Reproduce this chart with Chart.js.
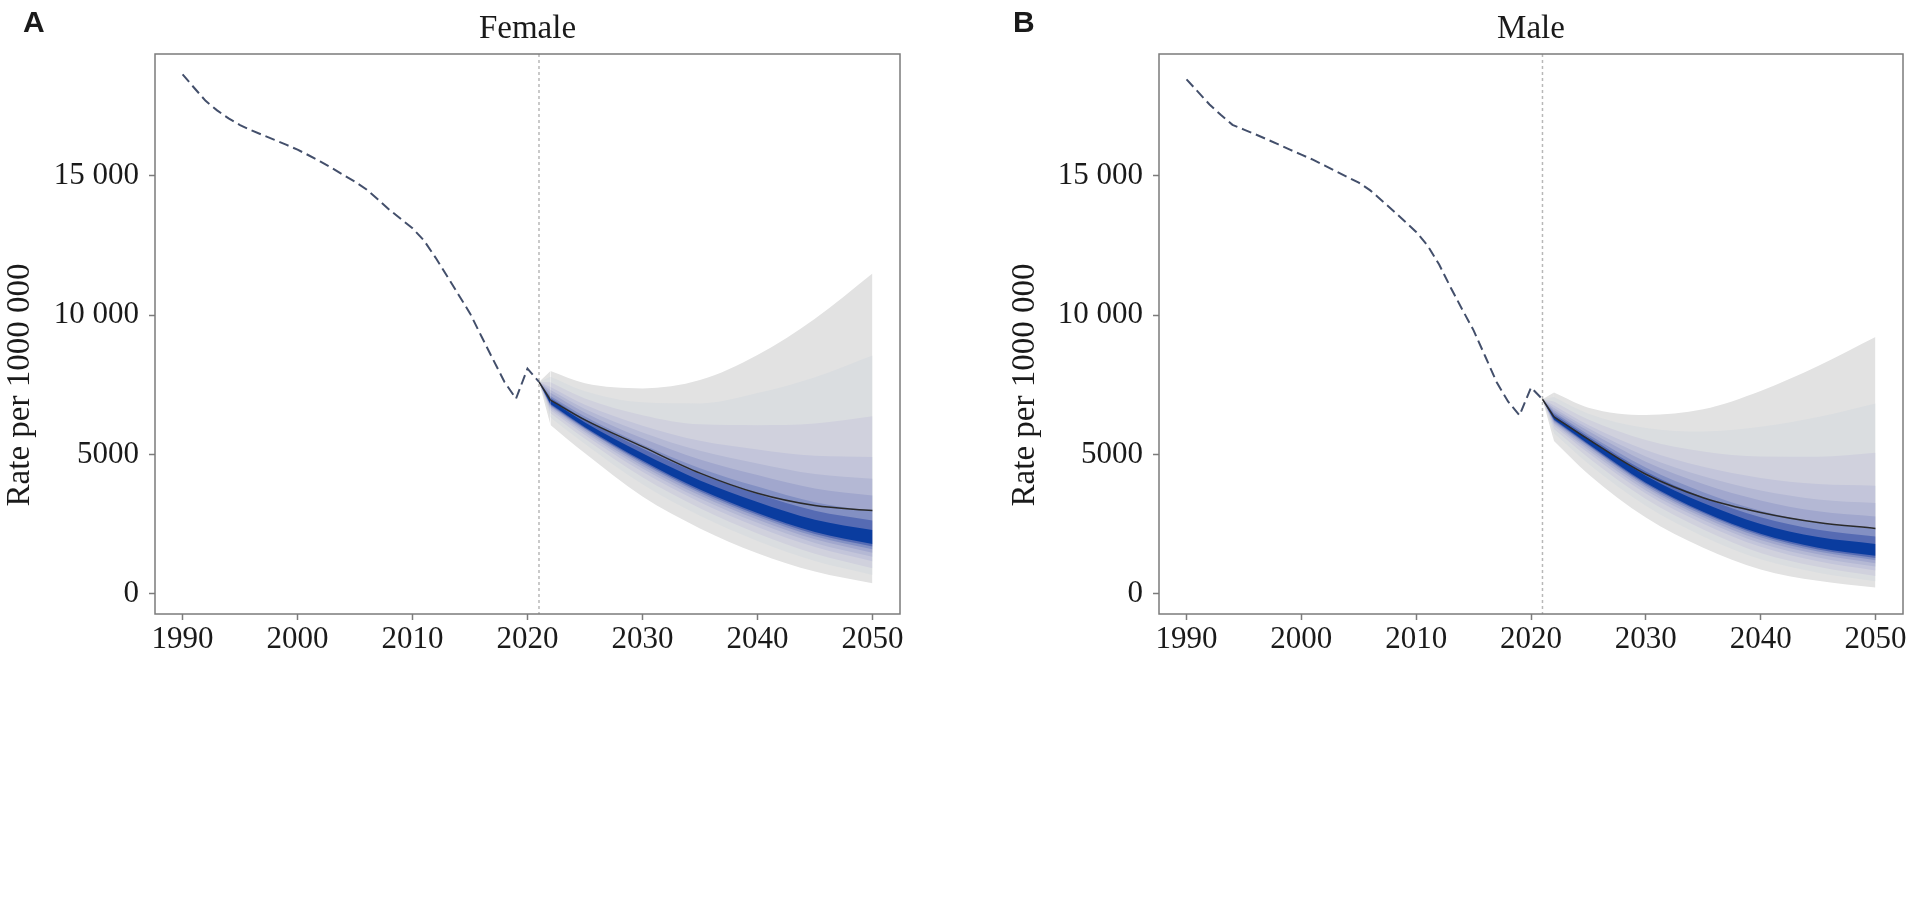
<!DOCTYPE html>
<html>
<head>
<meta charset="utf-8">
<script src="https://cdn.jsdelivr.net/npm/chart.js@4.4.1/dist/chart.umd.min.js"></script>
<style>
  html, body { margin: 0; padding: 0; background: #fff; overflow: hidden; }
  .panel { position: absolute; top: 0; width: 915px; height: 700px; }
</style>
</head>
<body>
<div class="panel" style="left:0"><canvas data-js-female></canvas></div>
<div class="panel" style="left:1004px"><canvas data-js-male></canvas></div>
<script>
// ===== data =====
const observedYears = [1990, 1991, 1992, 1993, 1994, 1995, 1996, 1997, 1998, 1999,
  2000, 2001, 2002, 2003, 2004, 2005, 2006, 2007, 2008, 2009,
  2010, 2011, 2012, 2013, 2014, 2015, 2016, 2017, 2018, 2019, 2020, 2021];

const femaleObserved = [18630, 18150, 17680, 17340, 17050, 16810, 16620, 16450, 16280, 16110,
  15930, 15720, 15500, 15270, 15020, 14780, 14500, 14140, 13770, 13440,
  13110, 12670, 12060, 11400, 10730, 10060, 9230, 8410, 7600, 7000, 8080, 7600];

const maleObserved = [18450, 18000, 17550, 17170, 16820, 16650, 16480, 16300, 16120, 15930,
  15750, 15570, 15370, 15160, 14950, 14750, 14470, 14110, 13740, 13360,
  12980, 12490, 11810, 10990, 10210, 9450, 8530, 7600, 6900, 6400, 7400, 6980];

const forecastYears = [2021, 2022, 2025, 2030, 2035, 2040, 2045, 2050];

const femaleReference = [7600, 6950, 6240, 5280, 4330, 3610, 3170, 2990];
const maleReference   = [6980, 6350, 5540, 4290, 3450, 2920, 2560, 2350];

// uncertainty bands, outermost first
const femaleUpper = [
  [7600, 7990, 7550, 7370, 7670, 8570, 9870, 11490],
  [7600, 7790, 7270, 6870, 6830, 7200, 7770, 8550],
  [7600, 7590, 7010, 6410, 6080, 6050, 6110, 6370],
  [7600, 7420, 6780, 6030, 5490, 5180, 4950, 4910],
  [7600, 7310, 6630, 5790, 5130, 4680, 4300, 4130],
  [7600, 7210, 6500, 5580, 4820, 4260, 3780, 3530],
  [7600, 7100, 6360, 5360, 4510, 3850, 3290, 2970],
  [7600, 7030, 6260, 5210, 4300, 3580, 2980, 2630],
  [7600, 6940, 6150, 5040, 4070, 3300, 2660, 2290],
];
const femaleLower = [
  [7600, 6060, 5040, 3490, 2350, 1460,  800,  380],
  [7600, 6330, 5380, 3930, 2800, 1900, 1180,  680],
  [7600, 6480, 5560, 4180, 3070, 2170, 1440,  920],
  [7600, 6590, 5700, 4380, 3290, 2400, 1680, 1170],
  [7600, 6660, 5790, 4500, 3420, 2550, 1830, 1330],
  [7600, 6710, 5850, 4590, 3530, 2670, 1960, 1480],
  [7600, 6750, 5910, 4670, 3620, 2770, 2070, 1600],
  [7600, 6780, 5940, 4730, 3680, 2840, 2150, 1700],
  [7600, 6810, 5980, 4780, 3740, 2900, 2220, 1790],
];

const maleUpper = [
  [6980, 7220, 6680, 6420, 6620, 7280, 8170, 9210],
  [6980, 7060, 6460, 5950, 5820, 5990, 6340, 6830],
  [6980, 6900, 6250, 5520, 5110, 4930, 4920, 5060],
  [6980, 6760, 6060, 5160, 4560, 4160, 3940, 3880],
  [6980, 6670, 5940, 4930, 4220, 3710, 3390, 3260],
  [6980, 6590, 5840, 4740, 3940, 3350, 2960, 2780],
  [6980, 6510, 5720, 4530, 3650, 2980, 2550, 2330],
  [6980, 6450, 5640, 4390, 3460, 2750, 2300, 2060],
  [6980, 6380, 5560, 4240, 3260, 2510, 2040, 1790],
];
const maleLower = [
  [6980, 5480, 4290, 2740, 1660,  880,  470,  230],
  [6980, 5760, 4670, 3160, 2060, 1240,  760,  450],
  [6980, 5910, 4880, 3400, 2310, 1470,  970,  640],
  [6980, 6030, 5050, 3600, 2520, 1690, 1170,  840],
  [6980, 6100, 5150, 3710, 2650, 1820, 1310,  980],
  [6980, 6150, 5230, 3810, 2750, 1930, 1420, 1100],
  [6980, 6190, 5300, 3880, 2830, 2030, 1520, 1210],
  [6980, 6230, 5340, 3940, 2900, 2100, 1590, 1290],
  [6980, 6250, 5380, 3990, 2950, 2160, 1660, 1370],
];

const bandColors = ['#e2e2e2', '#dadde0', '#d0d1dd', '#c3c5da', '#b4b8d4',
  '#a1a7cd', '#8390c3', '#566bb3', '#0a3c9f'];

const xTicks = [1990, 2000, 2010, 2020, 2030, 2040, 2050];
const yTicks = [0, 5000, 10000, 15000];
const yTickLabels = ['0', '5000', '10 000', '15 000'];

const splitYear = 2021;

// ===== drawing =====
const SERIF = '"Liberation Serif", "Times New Roman", serif';
const AXIS_GREY = '#7b7b7b';

const toPoints = (xs, ys) => xs.map((x, i) => ({ x, y: ys[i] }));

// first forecast step (2021 -> 2022) is drawn straight, the rest smooth
const headOf = (arr) => arr.slice(0, 2);
const tailOf = (arr) => arr.slice(1);

const decorPlugin = {
  id: 'decor',
  beforeDatasetsDraw(chart, args, opts) {
    const { ctx, chartArea: a, scales: { x } } = chart;
    const px = x.getPixelForValue(opts.splitYear);
    ctx.save();
    ctx.strokeStyle = '#b8b8b8';
    ctx.lineWidth = 1.5;
    ctx.setLineDash([3, 3]);
    ctx.beginPath();
    ctx.moveTo(px, a.top);
    ctx.lineTo(px, a.bottom);
    ctx.stroke();
    ctx.restore();
  },
  afterDraw(chart, args, opts) {
    const { ctx, chartArea: a } = chart;
    ctx.save();
    ctx.strokeStyle = AXIS_GREY;
    ctx.lineWidth = 1.5;
    ctx.strokeRect(a.left, a.top, a.right - a.left, a.bottom - a.top);

    ctx.fillStyle = '#1a1a1a';
    ctx.font = '33px ' + SERIF;
    ctx.textAlign = 'center';
    ctx.textBaseline = 'alphabetic';
    ctx.fillText(opts.title, (a.left + a.right) / 2, 38);

    ctx.save();
    ctx.translate(opts.yTitleX, 385);
    ctx.rotate(-Math.PI / 2);
    ctx.fillText('Rate per 1000 000', 0, 0);
    ctx.restore();

    ctx.font = 'bold 30px "Liberation Sans", Arial, sans-serif';
    ctx.textAlign = 'left';
    ctx.fillText(opts.letter, opts.letterX, 32);
    ctx.restore();
  },
};

function bandPair(xs, upper, lower, color, order, smooth) {
  const common = {
    borderColor: 'rgba(0,0,0,0)',
    borderWidth: 1,
    pointRadius: 0,
    tension: 0,
    cubicInterpolationMode: smooth ? 'monotone' : 'default',
    order,
  };
  return [
    { ...common, data: toPoints(xs, upper), backgroundColor: color, fill: '+1' },
    { ...common, data: toPoints(xs, lower), fill: false },
  ];
}

function makePanel(canvas, p) {
  const refLine = {
    borderColor: '#2a2a2a',
    borderWidth: 1.5,
    pointRadius: 0,
    fill: false,
    order: 1,
  };
  const datasets = [
    {
      data: toPoints(observedYears, p.observed),
      borderColor: '#434f6b',
      borderWidth: 2,
      borderDash: [10, 5],
      pointRadius: 0,
      tension: 0,
      fill: false,
      order: 0,
    },
    { ...refLine, data: toPoints(headOf(forecastYears), headOf(p.reference)), tension: 0 },
    { ...refLine, data: toPoints(tailOf(forecastYears), tailOf(p.reference)),
      cubicInterpolationMode: 'monotone' },
  ];

  p.upper.forEach((row, k) => {
    const order = 100 - k;
    datasets.push(...bandPair(headOf(forecastYears), headOf(row), headOf(p.lower[k]),
      bandColors[k], order, false));
    datasets.push(...bandPair(tailOf(forecastYears), tailOf(row), tailOf(p.lower[k]),
      bandColors[k], order, true));
  });

  return new Chart(canvas.getContext('2d'), {
    type: 'line',
    data: { datasets },
    options: {
      responsive: true,
      maintainAspectRatio: false,
      animation: false,
      layout: { padding: { left: 0, right: p.padRight, top: 54, bottom: 36 } },
      scales: {
        x: {
          type: 'linear',
          min: 1987.6,
          max: 2052.4,
          afterBuildTicks: (scale) => { scale.ticks = xTicks.map((v) => ({ value: v })); },
          afterFit: (scale) => { scale.height = 50; },
          grid: { display: true, drawOnChartArea: false, drawTicks: true,
            tickLength: 6, tickColor: AXIS_GREY, tickWidth: 1.5 },
          border: { display: false },
          ticks: { color: '#1a1a1a', padding: 1, maxRotation: 0,
            font: { family: SERIF, size: 31 }, callback: (v) => String(v) },
        },
        y: {
          type: 'linear',
          min: -720,
          max: 19360,
          afterBuildTicks: (scale) => { scale.ticks = yTicks.map((v) => ({ value: v })); },
          afterFit: (scale) => { scale.width = 155; },
          grid: { display: true, drawOnChartArea: false, drawTicks: true,
            tickLength: 6, tickColor: AXIS_GREY, tickWidth: 1.5 },
          border: { display: false },
          ticks: { color: '#1a1a1a', padding: 10,
            font: { family: SERIF, size: 31 },
            callback: (v) => yTickLabels[yTicks.indexOf(v)] },
        },
      },
      plugins: {
        legend: { display: false },
        tooltip: { enabled: false },
        decor: {
          title: p.title,
          letter: p.letter,
          letterX: p.letterX,
          yTitleX: p.yTitleX,
          splitYear,
        },
      },
    },
    plugins: [decorPlugin],
  });
}

makePanel(document.querySelector('[data-js-female]'), {
  title: 'Female', letter: 'A', letterX: 23, yTitleX: 28.5, padRight: 15,
  observed: femaleObserved, reference: femaleReference,
  upper: femaleUpper, lower: femaleLower,
});

makePanel(document.querySelector('[data-js-male]'), {
  title: 'Male', letter: 'B', letterX: 9, yTitleX: 30, padRight: 16,
  observed: maleObserved, reference: maleReference,
  upper: maleUpper, lower: maleLower,
});
</script>
</body>
</html>
